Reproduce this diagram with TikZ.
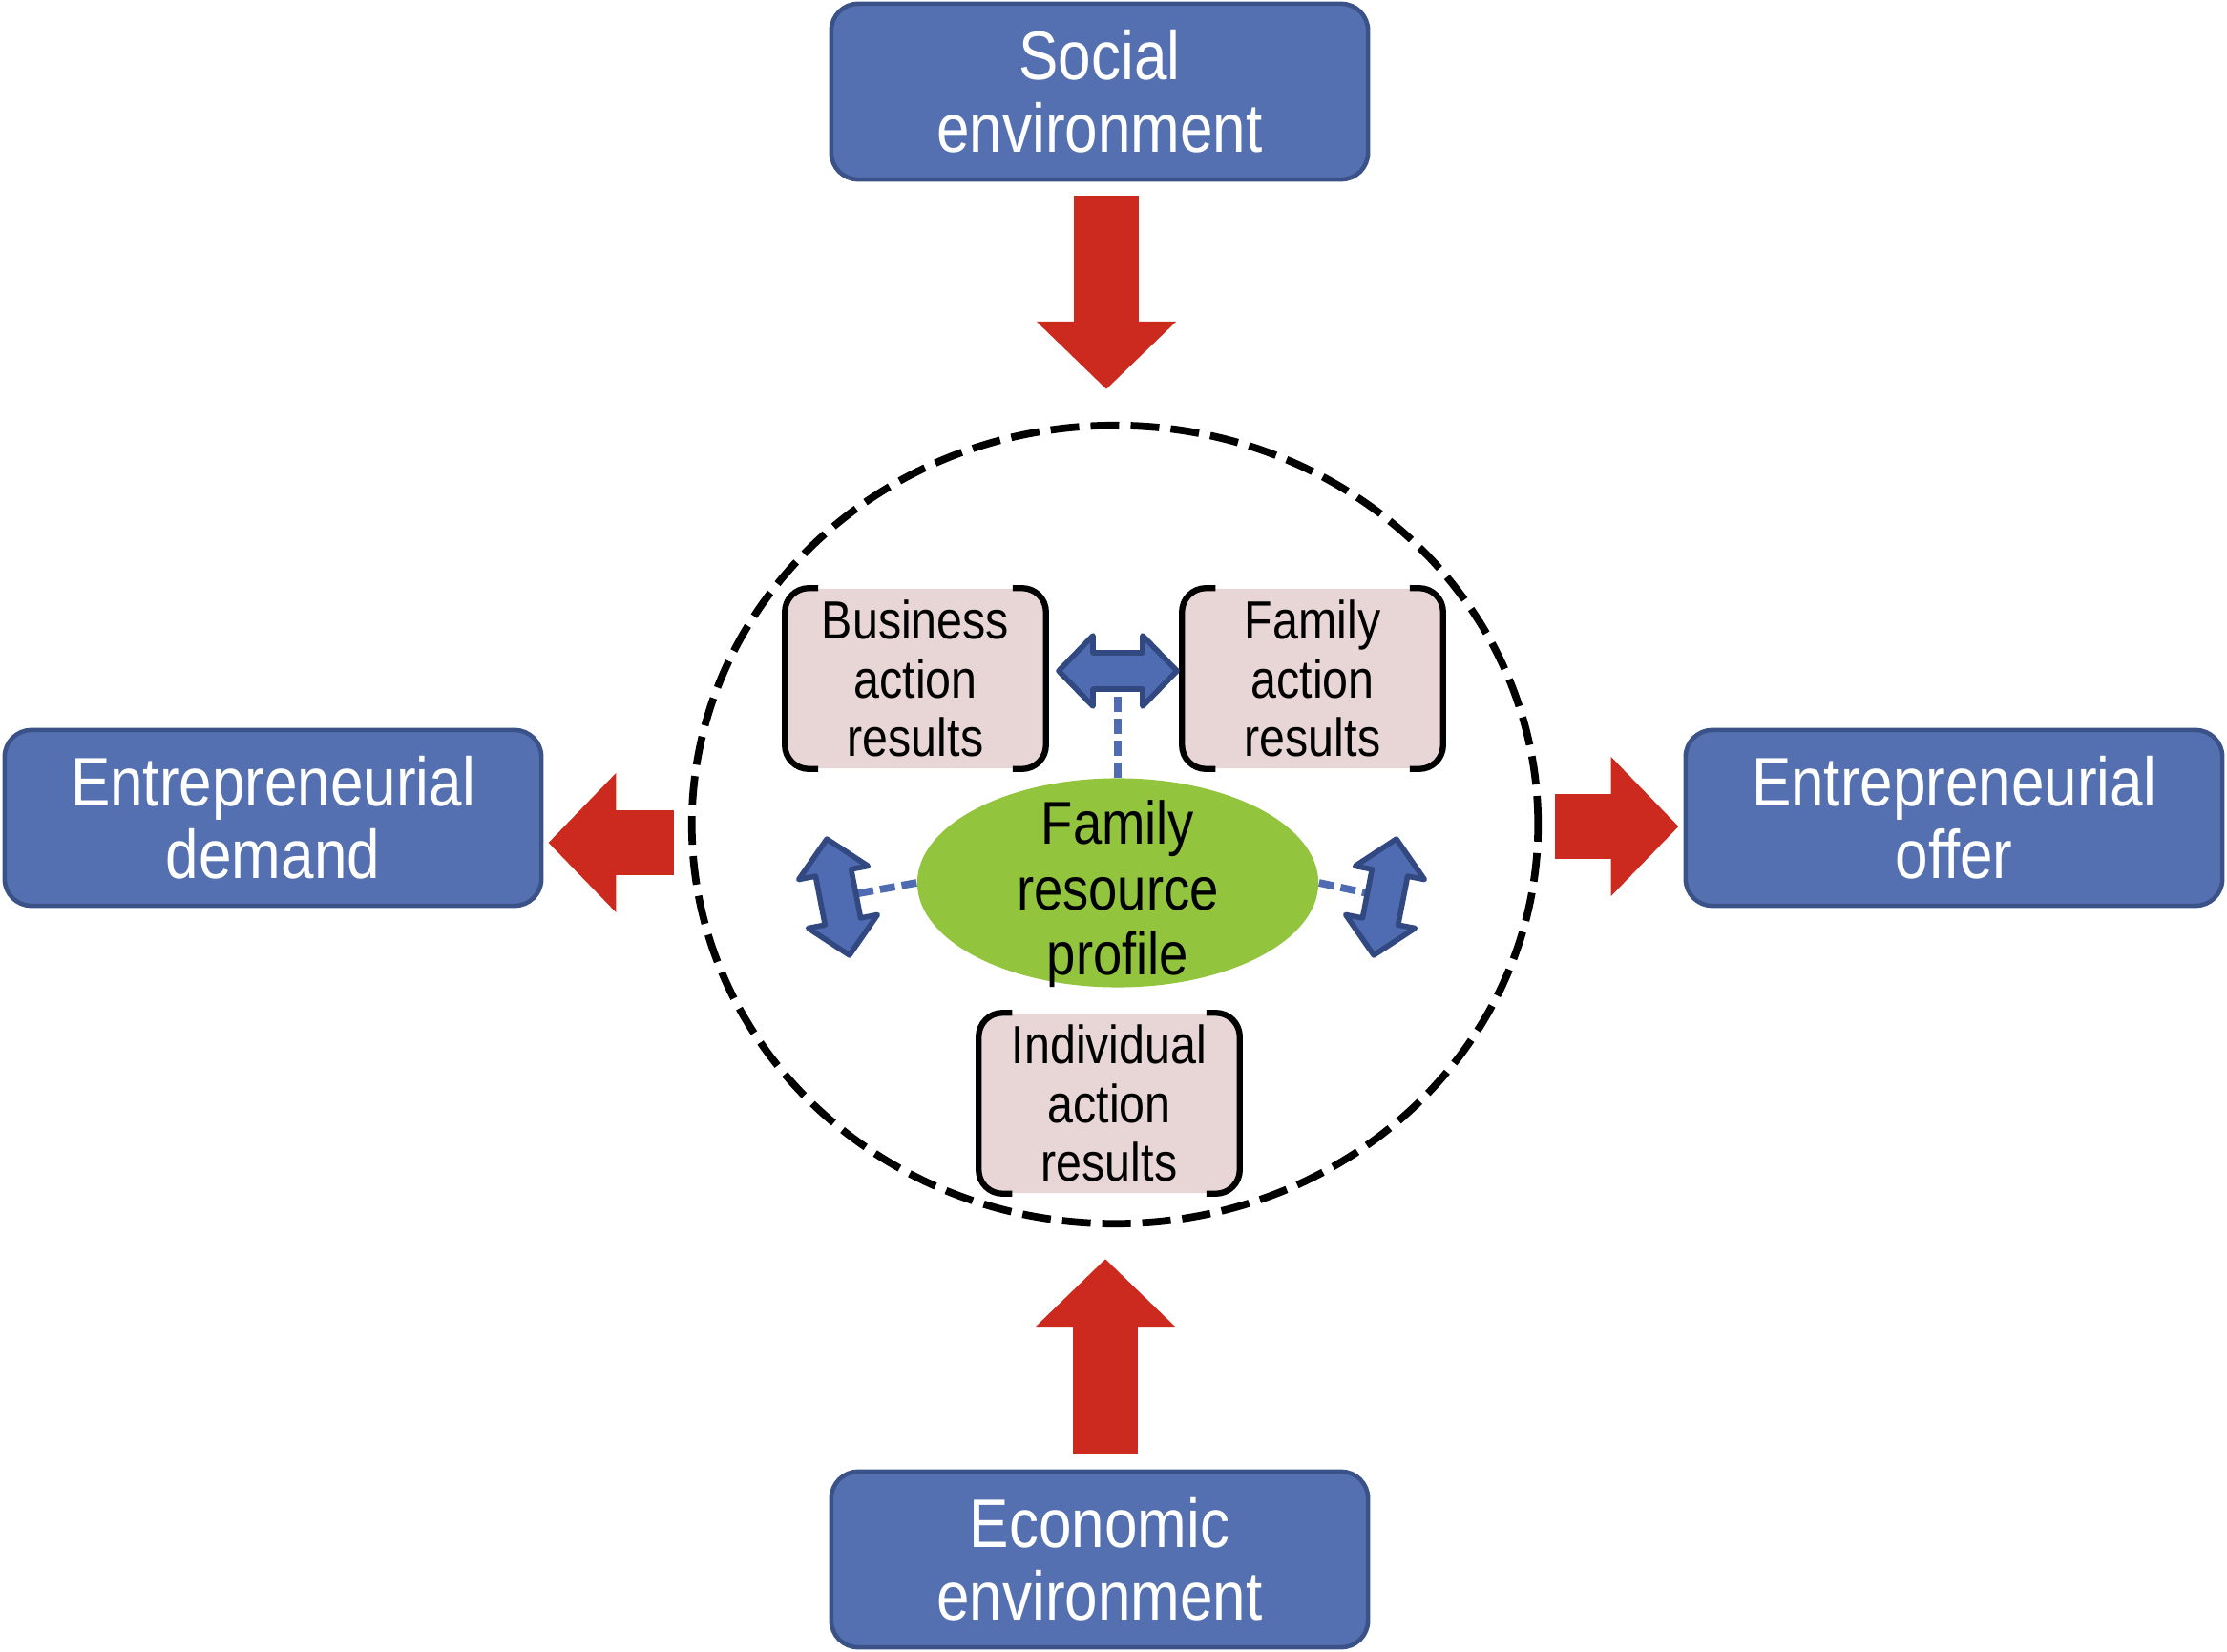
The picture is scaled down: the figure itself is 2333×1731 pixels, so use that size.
\documentclass[tikz,border=0pt]{standalone}
\usepackage{fontspec}
\setmainfont[FakeStretch=0.86]{Liberation Sans}
\usetikzlibrary{arrows.meta,shapes.geometric}
\definecolor{envblue}{RGB}{84,112,176}
\definecolor{envborder}{RGB}{59,82,136}
\definecolor{flowred}{RGB}{204,42,30}
\definecolor{profgreen}{RGB}{146,196,62}
\definecolor{resultpink}{RGB}{232,213,213}
\definecolor{linkblue}{RGB}{79,108,178}
\definecolor{linkborder}{RGB}{50,72,128}

\begin{document}
\begin{tikzpicture}[x=0.01cm, y=-0.01cm,
  envbox/.style={draw=envborder, line width=1.3pt, fill=envblue, rounded corners=0.28cm,
                 minimum width=5.62cm, minimum height=1.84cm, text=white, align=center,
                 font=\fontsize{20.5}{21.5}\selectfont},
  flow/.style={draw=flowred, line width=0.68cm, -{Triangle[length=0.71cm, width=1.42cm]}},
  ring/.style={ellipse, draw, line width=2.2pt, dash pattern=on 0.3cm off 0.12cm,
               minimum width=8.86cm, minimum height=8.36cm},
  result/.style={fill=resultpink, rounded corners=0.25cm, minimum width=2.72cm,
                 minimum height=1.88cm, inner sep=1pt, align=center,
                 font=\fontsize{16}{17.5}\selectfont},
  bracket/.style={line width=1.8pt, rounded corners=0.25cm},
  profile/.style={ellipse, fill=profgreen, minimum width=4.2cm, minimum height=2.19cm},
  link/.style={draw=linkblue, line width=2.2pt, dash pattern=on 0.16cm off 0.07cm},
  linkarrow/.pic={
    \draw[draw=linkborder, fill=linkblue, line width=1.6pt, line join=round]
      (-62,0) -- (-26,-37) -- (-26,-19) -- (26,-19) -- (26,-37) -- (62,0)
      -- (26,37) -- (26,19) -- (-26,19) -- (-26,37) -- cycle;
  },
]
  \useasboundingbox (0,0) rectangle (2333,1731);

  % ---- Outer boxes ----
  \node[envbox] (soc) at (1152,96)  {Social\\environment};
  \node[envbox] (eco) at (1152,1634) {Economic\\environment};
  \node[envbox] (dem) at (286,857)  {Entrepreneurial\\demand};
  \node[envbox] (off) at (2047,857) {Entrepreneurial\\offer};

  % ---- Dashed ring ----
  \node[ring] (ring) at (1168,864) {};

  % ---- Red flows ----
  \draw[flow] ([shift={(7,15)}]soc.south) -- ([shift={(-9,-34)}]ring.north);
  \draw[flow] ([shift={(6,-16)}]eco.north) -- ([shift={(-10,33)}]ring.south);
  \draw[flow] ([shift={(-15,19)}]ring.west) -- ([shift={(5,26)}]dem.east);
  \draw[flow] ([shift={(14,2)}]ring.east) -- ([shift={(-5,9)}]off.west);

  % ---- Action results ----
  \node[result] (bar) at (959,711)  {Business\\action\\results};
  \node[result] (far) at (1375,711) {Family\\action\\results};
  \node[result] (iar) at (1162,1156) {Individual\\action\\results};
  \foreach \b in {bar,far,iar} {
    \draw[bracket] ([xshift=0.35cm]\b.north west) -- (\b.north west)
      -- (\b.south west) -- ([xshift=0.35cm]\b.south west);
    \draw[bracket] ([xshift=-0.35cm]\b.north east) -- (\b.north east)
      -- (\b.south east) -- ([xshift=-0.35cm]\b.south east);
  }

  % ---- Family resource profile ----
  \node[profile] (fp) at (1171,925) {};
  \node[align=center, font=\fontsize{18}{19.5}\selectfont] (fptext) at (1171,937)
    {Family\\resource\\profile};

  % ---- Links ----
  \coordinate (ha) at (1171,703);
  \coordinate (la) at (878,940);
  \coordinate (ra) at (1451,940);
  \draw[link] (fp.north) -- (ha);
  \draw[link] (fp.west) -- (la);
  \draw[link] (fp.east) -- (ra);
  \pic at (ha) {linkarrow};
  \pic[rotate=101] at (la) {linkarrow};
  \pic[rotate=79] at (ra) {linkarrow};
\end{tikzpicture}
\end{document}
